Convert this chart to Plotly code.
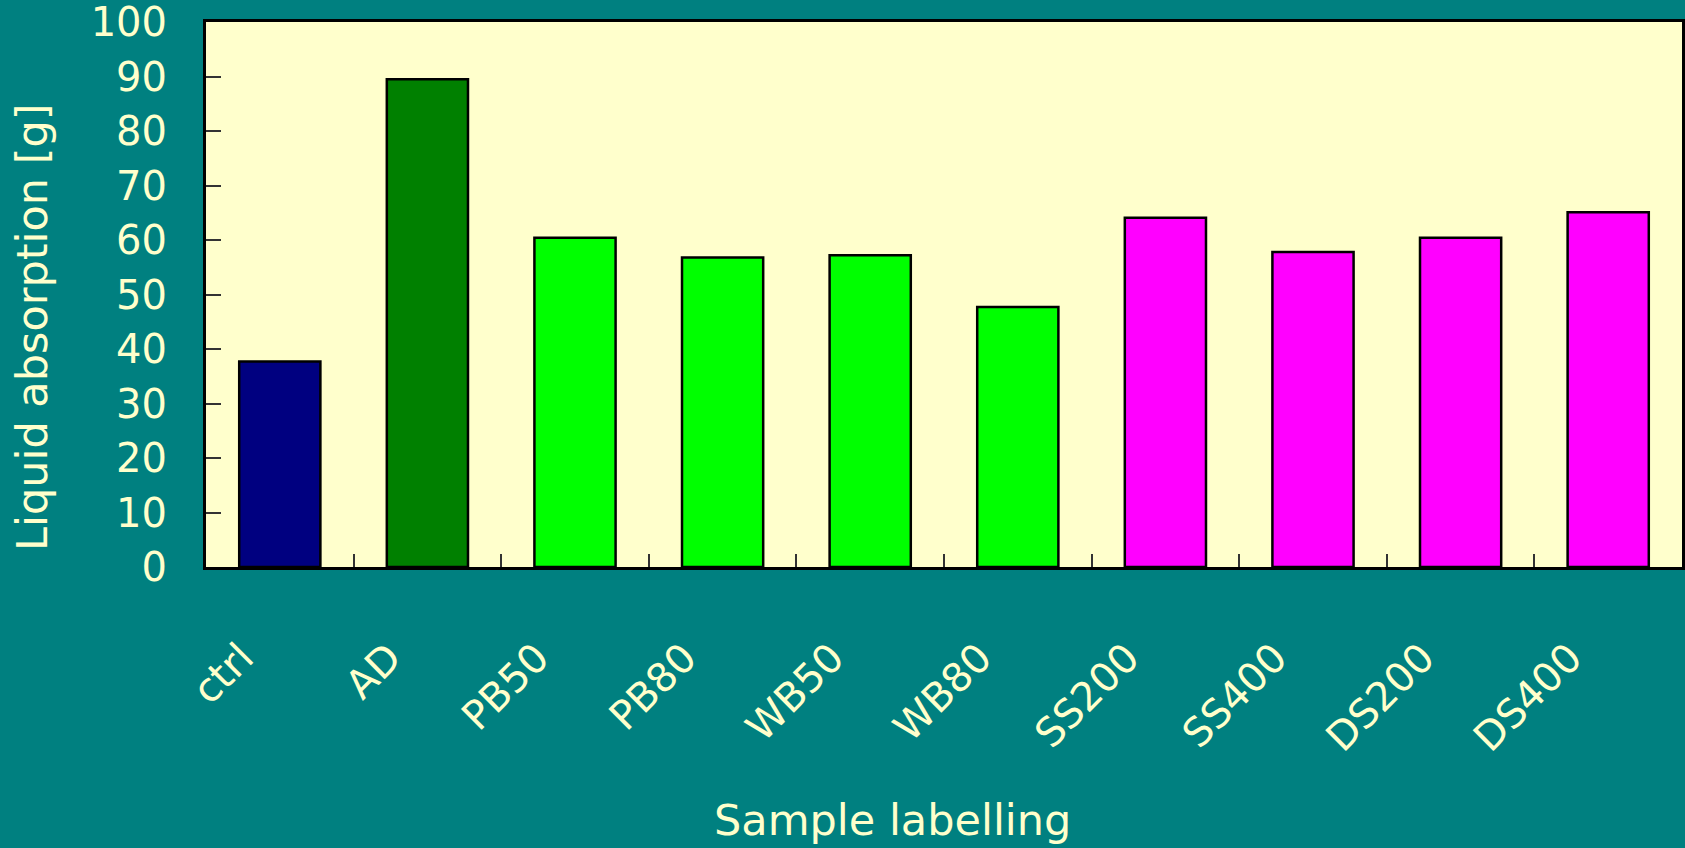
import plotly.graph_objects as go

categories = ["ctrl", "AD", "PB50", "PB80", "WB50", "WB80", "SS200", "SS400", "DS200", "DS400"]
absorption = [37.7, 89.5, 60.4, 56.8, 57.2, 47.7, 64.1, 57.8, 60.4, 65.1]
bar_colors = ["#000080", "#008000", "#00FF00", "#00FF00", "#00FF00", "#00FF00",
              "#FF00FF", "#FF00FF", "#FF00FF", "#FF00FF"]

TXT = "#FFFFCC"
FONT = "DejaVu Sans"

W, H = 1685, 848
ML, MR, MT, MB = 206, 3, 22, 281
pw = W - ML - MR
ph = H - MT - MB


def px_x(x):
    return (x - ML) / pw


def px_y(y):
    return (H - MB - y) / ph


fig = go.Figure(go.Bar(
    x=categories, y=absorption,
    marker=dict(color=bar_colors, line=dict(color="black", width=2.5)),
    width=0.55,
))

fig.update_layout(
    width=W, height=H,
    paper_bgcolor="#008080", plot_bgcolor="#FFFFCC",
    margin=dict(l=ML, r=MR, t=MT, b=MB),
    showlegend=False,
    font=dict(family=FONT, color=TXT),
    annotations=[
        dict(text="Liquid absorption [g]", x=px_x(32), y=px_y(327), xref="paper", yref="paper",
             xanchor="center", yanchor="middle",
             showarrow=False, textangle=-90, font=dict(size=43, color=TXT, family=FONT)),
        dict(text="Sample labelling", x=px_x(892), y=px_y(847), xref="paper", yref="paper",
             xanchor="center", yanchor="bottom",
             showarrow=False, font=dict(size=43, color=TXT, family=FONT)),
    ],
)

fig.update_yaxes(
    range=[0, 100], dtick=10, showgrid=False, zeroline=False, automargin=False,
    showline=True, mirror=True, linecolor="black", linewidth=3,
    ticks="inside", ticklen=15, tickwidth=1.5, tickcolor="#333333",
    tickfont=dict(size=40, color=TXT, family=FONT), ticklabelstandoff=28,
    ticklabeloverflow="allow",
)
fig.update_xaxes(
    showgrid=False, showline=True, mirror=True, linecolor="black", linewidth=3,
    automargin=False,
    ticks="inside", ticklen=13, tickwidth=1.5, tickcolor="#333333",
    tickson="boundaries", tickangle=-45,
    tickfont=dict(size=40, color=TXT, family=FONT), ticklabelstandoff=48,
    ticklabelshift=-38, ticklabeloverflow="allow",
)

fig.write_html("out.html")
